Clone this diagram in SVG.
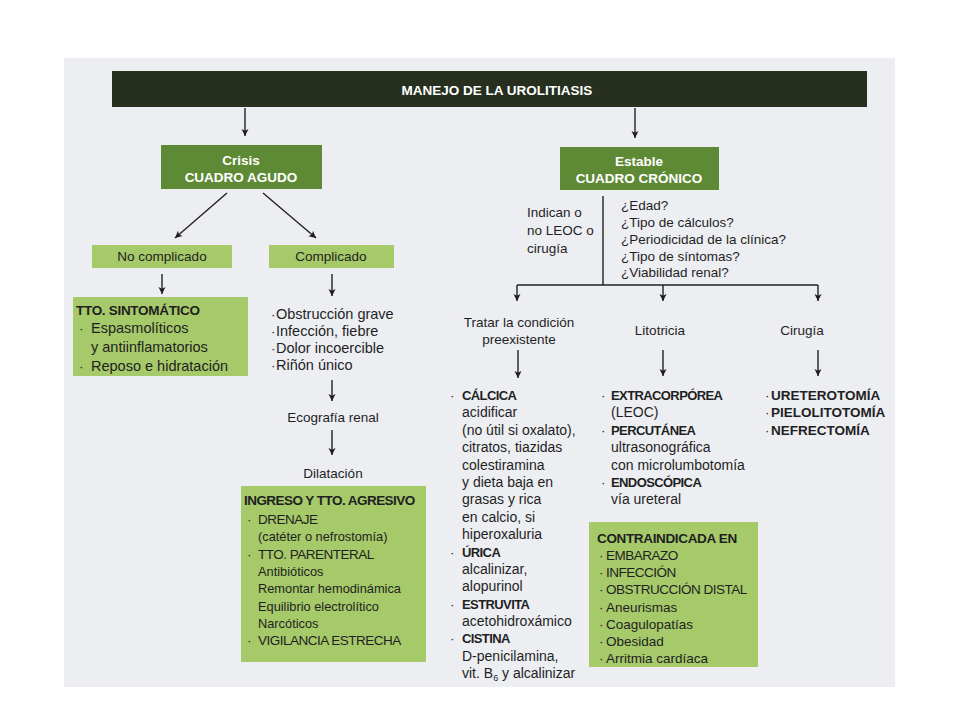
<svg xmlns="http://www.w3.org/2000/svg" width="960" height="720" viewBox="0 0 960 720">
<defs>
<marker id="ah" viewBox="0 0 10 10" refX="10" refY="5" markerWidth="7" markerHeight="9" markerUnits="userSpaceOnUse" orient="auto">
<path d="M0,0 L10,5 L0,10 L2.5,5 z" fill="#1e1e1e"/>
</marker>
<style>
text{font-family:"Liberation Sans",Arial,sans-serif;font-size:13.5px;fill:#1f1f1f}
.b{font-weight:bold}
.w{fill:#ffffff;font-weight:bold}
.c{text-anchor:middle}
.cap{letter-spacing:-0.5px}
.bc{font-weight:bold;font-size:13px;letter-spacing:-0.6px}
.big{font-size:14.5px}
.col{font-size:14px}
.sm{font-size:12.8px}
.dark{fill:#27301f}
.mid{fill:#5e8a35}
.lt{fill:#a6c96a}
.ln{stroke:#222;stroke-width:1.4;fill:none}
.ar{stroke:#222;stroke-width:1.4;fill:none;marker-end:url(#ah)}
</style>
</defs>
<rect x="0" y="0" width="960" height="720" fill="#ffffff"/>
<rect x="64" y="58" width="831" height="629" fill="#eceef2"/>

<g id="connectors">
<line class="ar" x1="245" y1="108" x2="245" y2="136"/>
<line class="ar" x1="635" y1="108" x2="635" y2="138"/>
<line class="ar" x1="227" y1="193" x2="175" y2="238"/>
<line class="ar" x1="263" y1="193" x2="316" y2="238"/>
<line class="ar" x1="162" y1="274" x2="162" y2="294"/>
<line class="ar" x1="332" y1="274" x2="332" y2="296"/>
<line class="ar" x1="332" y1="380" x2="332" y2="401"/>
<line class="ar" x1="332" y1="430" x2="332" y2="455"/>
<line class="ln" x1="603" y1="196" x2="603" y2="285"/>
<line class="ln" x1="517" y1="285" x2="818" y2="285"/>
<line class="ar" x1="517" y1="285" x2="517" y2="301"/>
<line class="ar" x1="663" y1="285" x2="663" y2="301"/>
<line class="ar" x1="818" y1="285" x2="818" y2="301"/>
<line class="ar" x1="518" y1="350" x2="518" y2="378"/>
<line class="ar" x1="663" y1="350" x2="663" y2="376"/>
<line class="ar" x1="818" y1="350" x2="818" y2="376"/>
</g>

<g id="header">
<rect class="dark" x="112" y="71" width="755" height="36"/>
<text class="w c" x="497" y="95" font-size="13">MANEJO DE LA UROLITIASIS</text>
</g>

<g id="crisis">
<rect class="mid" x="161" y="145" width="161" height="44"/>
<text class="w c" x="241" y="165">Crisis</text>
<text class="w c" x="241" y="182">CUADRO AGUDO</text>
</g>

<g id="estable">
<rect class="mid" x="560" y="147" width="159" height="43"/>
<text class="w c" x="639" y="166">Estable</text>
<text class="w c" x="639" y="183">CUADRO CRÓNICO</text>
</g>

<g id="nocomplicado">
<rect class="lt" x="92" y="245" width="140" height="23"/>
<text class="c" x="162" y="261">No complicado</text>
</g>

<g id="complicado">
<rect class="lt" x="269" y="245" width="125" height="23"/>
<text class="c" x="331" y="261">Complicado</text>
</g>

<g id="sintomatico">
<rect class="lt" x="73" y="297" width="175" height="79"/>
<text class="b" x="76" y="315" letter-spacing="-0.3">TTO. SINTOMÁTICO</text>
<text x="79" y="333">·</text><text class="big" x="91" y="333">Espasmolíticos</text>
<text class="big" x="91" y="352">y antiinflamatorios</text>
<text x="79" y="371">·</text><text class="big" x="91" y="371">Reposo e hidratación</text>
</g>

<g id="criterios">
<text x="271" y="319">·</text><text class="big" x="276" y="319">Obstrucción grave</text>
<text x="271" y="336">·</text><text class="big" x="276" y="336">Infección, fiebre</text>
<text x="271" y="353">·</text><text class="big" x="276" y="353">Dolor incoercible</text>
<text x="271" y="370">·</text><text class="big" x="276" y="370">Riñón único</text>
</g>

<g id="ecografia">
<text class="c" x="333" y="422">Ecografía renal</text>
</g>

<g id="dilatacion">
<text class="c" x="333" y="478">Dilatación</text>
</g>

<g id="ingreso">
<rect class="lt" x="241" y="486" width="185" height="176"/>
<text class="b" x="244" y="505" letter-spacing="-0.55">INGRESO Y TTO. AGRESIVO</text>
<text x="247" y="524">·</text><text class="cap" x="258" y="524">DRENAJE</text>
<text class="sm" x="258" y="541">(catéter o nefrostomía)</text>
<text x="247" y="559">·</text><text class="cap" x="258" y="559">TTO. PARENTERAL</text>
<text class="sm" x="258" y="576">Antibióticos</text>
<text class="sm" x="258" y="593">Remontar hemodinámica</text>
<text class="sm" x="258" y="611">Equilibrio electrolítico</text>
<text class="sm" x="258" y="628">Narcóticos</text>
<text x="247" y="645">·</text><text class="cap" x="258" y="645">VIGILANCIA ESTRECHA</text>
</g>

<g id="indican">
<text x="527" y="217">Indican o</text>
<text x="527" y="235">no LEOC o</text>
<text x="527" y="253">cirugía</text>
</g>

<g id="preguntas">
<text x="621" y="210">¿Edad?</text>
<text x="621" y="227">¿Tipo de cálculos?</text>
<text x="621" y="244">¿Periodicidad de la clínica?</text>
<text x="621" y="261">¿Tipo de síntomas?</text>
<text x="621" y="277">¿Viabilidad renal?</text>
</g>

<g id="tratar">
<text class="c" x="519" y="327">Tratar la condición</text>
<text class="c" x="519" y="344">preexistente</text>
</g>

<g id="litotricia">
<text class="c" x="660" y="335">Litotricia</text>
</g>

<g id="cirugia">
<text class="c" x="802" y="335">Cirugía</text>
</g>

<g id="tipos">
<text x="450" y="400">·</text><text class="bc" x="462" y="400">CÁLCICA</text>
<text class="col" x="462" y="417">acidificar</text>
<text class="col" x="462" y="435">(no útil si oxalato),</text>
<text class="col" x="462" y="452">citratos, tiazidas</text>
<text class="col" x="462" y="470">colestiramina</text>
<text class="col" x="462" y="487">y dieta baja en</text>
<text class="col" x="462" y="504">grasas y rica</text>
<text class="col" x="462" y="522">en calcio, si</text>
<text class="col" x="462" y="539">hiperoxaluria</text>
<text x="450" y="557">·</text><text class="bc" x="462" y="557">ÚRICA</text>
<text class="col" x="462" y="574">alcalinizar,</text>
<text class="col" x="462" y="591">alopurinol</text>
<text x="450" y="609">·</text><text class="bc" x="462" y="609">ESTRUVITA</text>
<text class="col" x="462" y="626">acetohidroxámico</text>
<text x="450" y="643">·</text><text class="bc" x="462" y="643">CISTINA</text>
<text class="col" x="462" y="661">D-penicilamina,</text>
<text class="col" x="462" y="678">vit. B<tspan font-size="9" dy="3">6</tspan><tspan dy="-3"> y alcalinizar</tspan></text>
</g>

<g id="tecnicas">
<text x="601" y="400">·</text><text class="bc" x="611" y="400">EXTRACORPÓREA</text>
<text class="col" x="611" y="417">(LEOC)</text>
<text x="601" y="435">·</text><text class="bc" x="611" y="435">PERCUTÁNEA</text>
<text class="col" x="611" y="452">ultrasonográfica</text>
<text class="col" x="611" y="470">con microlumbotomía</text>
<text x="601" y="487">·</text><text class="bc" x="611" y="487">ENDOSCÓPICA</text>
<text class="col" x="611" y="504">vía ureteral</text>
</g>

<g id="cirugias">
<text x="765" y="400">·</text><text class="b" x="771" y="400">URETEROTOMÍA</text>
<text x="765" y="417">·</text><text class="b" x="771" y="417">PIELOLITOTOMÍA</text>
<text x="765" y="435">·</text><text class="b" x="771" y="435">NEFRECTOMÍA</text>
</g>

<g id="contraindicada">
<rect class="lt" x="589" y="522" width="169" height="145"/>
<text class="b" x="597" y="543" letter-spacing="-0.35">CONTRAINDICADA EN</text>
<text x="599" y="560">·</text><text class="cap" x="606" y="560">EMBARAZO</text>
<text x="599" y="577">·</text><text class="cap" x="606" y="577">INFECCIÓN</text>
<text x="599" y="594">·</text><text class="cap" x="606" y="594">OBSTRUCCIÓN DISTAL</text>
<text x="599" y="612">·</text><text x="606" y="612">Aneurismas</text>
<text x="599" y="629">·</text><text x="606" y="629">Coagulopatías</text>
<text x="599" y="646">·</text><text x="606" y="646">Obesidad</text>
<text x="599" y="663">·</text><text x="606" y="663">Arritmia cardíaca</text>
</g>
</svg>
